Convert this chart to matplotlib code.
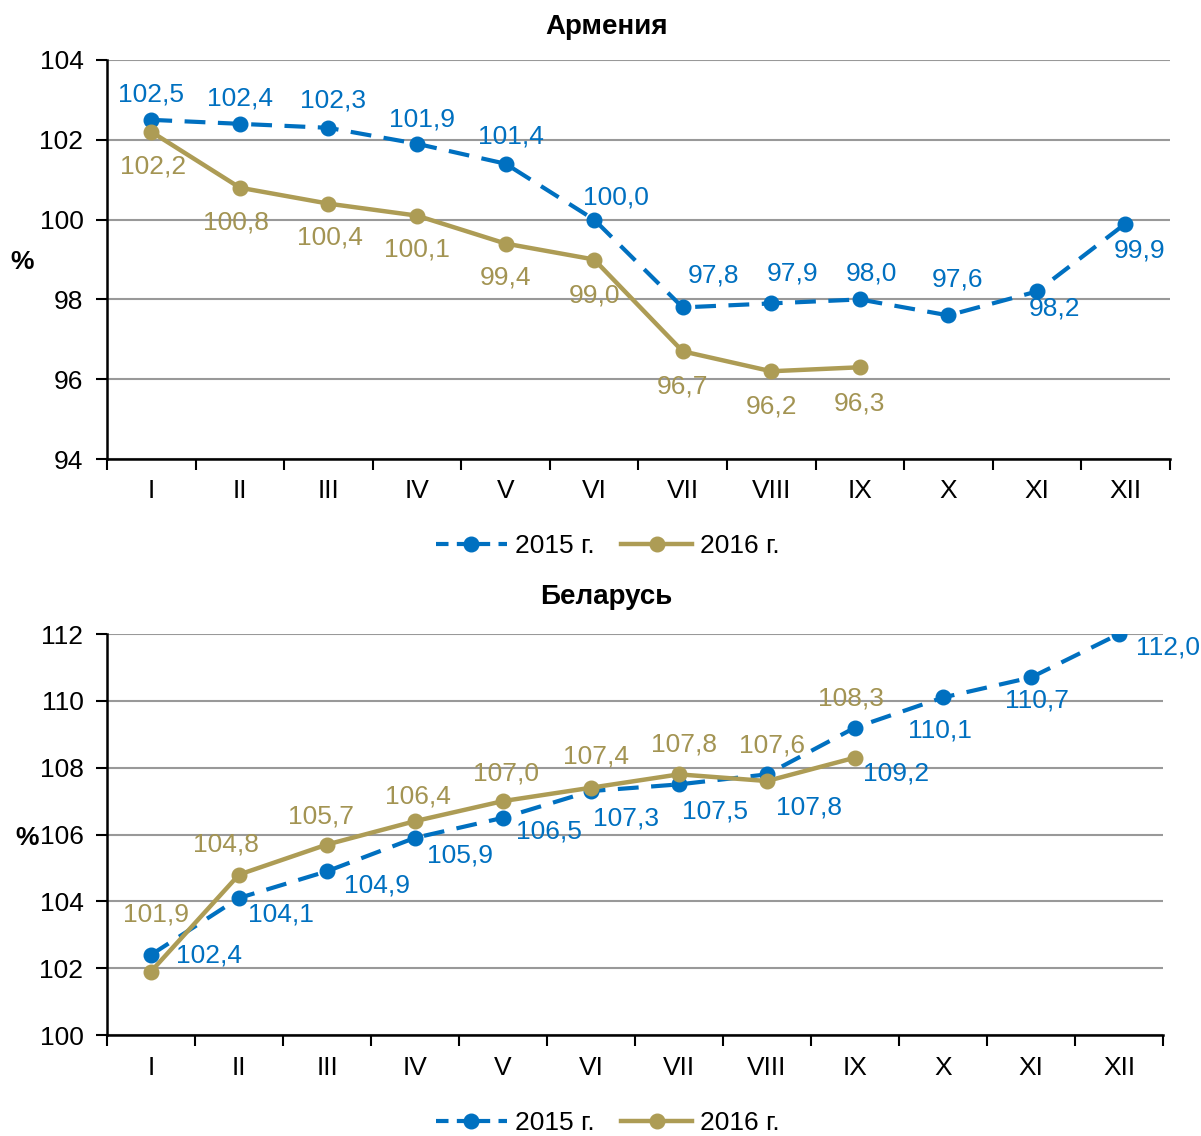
import matplotlib
matplotlib.use("Agg")
import matplotlib.pyplot as plt
from matplotlib.lines import Line2D

plt.rcParams['font.family'] = ['Liberation Sans', 'DejaVu Sans']

months = ['I', 'II', 'III', 'IV', 'V', 'VI', 'VII', 'VIII', 'IX', 'X', 'XI', 'XII']

arm_2015 = [102.5, 102.4, 102.3, 101.9, 101.4, 100.0, 97.8, 97.9, 98.0, 97.6, 98.2, 99.9]
arm_2016 = [102.2, 100.8, 100.4, 100.1, 99.4, 99.0, 96.7, 96.2, 96.3]

bel_2015 = [102.4, 104.1, 104.9, 105.9, 106.5, 107.3, 107.5, 107.8, 109.2, 110.1, 110.7, 112.0]
bel_2016 = [101.9, 104.8, 105.7, 106.4, 107.0, 107.4, 107.8, 107.6, 108.3]

# label offsets in pixels (dx, dy), screen coords (dy up)
arm_off_15 = [(0, 25), (0, 25), (5, 27), (5, 24), (5, 27), (22, 22), (31, 32), (21, 30), (12, 26), (9, 36), (18, -17), (14, -27)]
arm_off_16 = [(2, -35), (-4, -35), (2, -34), (0, -34), (0, -34), (0, -36), (0, -35), (0, -35), (0, -36)]
bel_off_15 = [(58, -1), (42, -17), (50, -14), (45, -18), (46, -14), (35, -27), (36, -27), (42, -33), (41, -46), (-3, -33), (6, -23), (49, -13)]
bel_off_16 = [(5, 57), (-13, 30), (-6, 28), (3, 25), (3, 28), (5, 31), (5, 30), (5, 36), (-4, 59)]

BLUE = '#0070C0'
GOLD = '#AD9C55'
GOLD_TXT = '#A39453'
FS = 19

fig = plt.figure(figsize=(12.01, 11.36), dpi=100)
ax1 = fig.add_axes([0.0891, 0.5959, 0.974 - 0.0891, 0.9472 - 0.5959])
ax2 = fig.add_axes([0.0891, 0.0889, 0.9684 - 0.0891, 0.4419 - 0.0889])


def draw(ax, s15, s16, off15, off16, ylim, title, title_y, leg_y, xpad):
    x15 = list(range(len(s15)))
    x16 = list(range(len(s16)))
    ax.plot(x15, s15, color=BLUE, lw=3, dashes=(5, 3), marker='o',
            markersize=10.5, zorder=3)
    ax.plot(x16, s16, color=GOLD, lw=3.2, marker='o', markersize=10.5, zorder=4)
    for x, v, (dx, dy) in zip(x15, s15, off15):
        ax.annotate(f'{v:.1f}'.replace('.', ','), (x, v), xytext=(dx, dy),
                    textcoords='offset pixels', ha='center', va='center',
                    fontsize=FS, color=BLUE, zorder=5, annotation_clip=False)
    for x, v, (dx, dy) in zip(x16, s16, off16):
        ax.annotate(f'{v:.1f}'.replace('.', ','), (x, v), xytext=(dx, dy),
                    textcoords='offset pixels', ha='center', va='center',
                    fontsize=FS, color=GOLD_TXT, zorder=5, annotation_clip=False)
    ax.set_xlim(-0.5, 11.5)
    ax.set_ylim(*ylim)
    ax.set_yticks(range(ylim[0], ylim[1] + 1, 2))
    ax.set_xticks(range(12))
    ax.set_xticklabels(months)
    ax.set_xticks([i - 0.5 for i in range(13)], minor=True)
    ax.tick_params(axis='x', which='major', length=0, labelsize=FS, pad=xpad)
    ax.tick_params(axis='x', which='minor', length=8, width=1.5, direction='out')
    ax.tick_params(axis='y', length=8, width=1.5, direction='out', labelsize=FS, pad=9)
    ax.grid(axis='y', color='#999999', lw=1.5)
    ax.set_axisbelow(True)
    for s in ['top', 'right']:
        ax.spines[s].set_visible(False)
    for s in ['left', 'bottom']:
        ax.spines[s].set_linewidth(1.8)
    fig.text(0.505, title_y, title, ha='center', va='center', fontsize=20,
             fontweight='bold')
    handles = [
        Line2D([], [], color=BLUE, lw=3, dashes=(3, 2), marker='o', markersize=10.5),
        Line2D([], [], color=GOLD, lw=3.2, marker='o', markersize=10.5),
    ]
    ax.legend(handles, ['2015 г.', '2016 г.'], loc='center',
              bbox_to_anchor=(0.506, leg_y), bbox_transform=fig.transFigure,
              ncol=2, frameon=False, fontsize=FS, handlelength=2.7,
              columnspacing=1.0, handletextpad=0.3)


draw(ax1, arm_2015, arm_2016, arm_off_15, arm_off_16, (94, 104), 'Армения',
     1 - 27 / 1136, 1 - 546 / 1136, 14)
draw(ax2, bel_2015, bel_2016, bel_off_15, bel_off_16, (100, 112), 'Беларусь',
     1 - 597 / 1136, 1 - 1123 / 1136, 15)

fig.text(22 / 1201, 1 - 262 / 1136, '%', ha='center', va='center', fontsize=FS,
         fontweight='bold')
fig.text(27 / 1201, 1 - 838 / 1136, '%', ha='center', va='center', fontsize=FS,
         fontweight='bold')

fig.savefig('out.png', dpi=100)
